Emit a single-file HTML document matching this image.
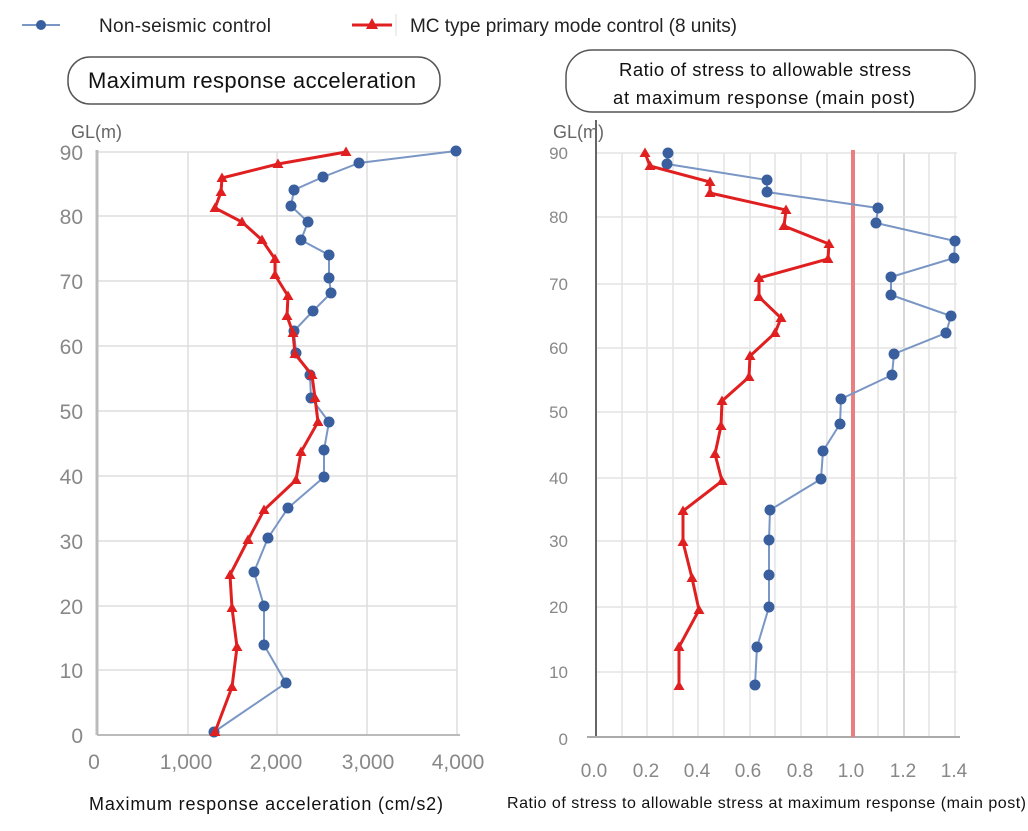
<!DOCTYPE html>
<html><head><meta charset="utf-8"><style>
body{margin:0;background:#fff;width:1028px;height:826px;overflow:hidden}
text{font-family:"Liberation Sans",sans-serif}
</style></head><body>
<svg width="1028" height="826" viewBox="0 0 1028 826" xmlns="http://www.w3.org/2000/svg">
<defs>
<marker id="c" markerUnits="userSpaceOnUse" markerWidth="14" markerHeight="14" refX="7" refY="7"><circle cx="7" cy="7" r="5.5" fill="#3a5f9e"/></marker>
<marker id="t" markerUnits="userSpaceOnUse" markerWidth="14" markerHeight="14" refX="7" refY="7"><polygon points="7,1.5 12.5,11 1.5,11" fill="#e02020"/></marker>
</defs>
<line x1="22" y1="25" x2="60" y2="25" stroke="#7a96c4" stroke-width="2"/><circle cx="41" cy="25" r="5" fill="#3a5f9e"/>
<text x="99" y="32" font-size="19" fill="#222" textLength="172">Non-seismic control</text>
<line x1="352" y1="25" x2="392" y2="25" stroke="#e02020" stroke-width="3"/><polygon points="372,18 378,29 366,29" fill="#e02020"/>
<line x1="396" y1="14" x2="396" y2="36" stroke="#ddd"/>
<text x="410" y="32" font-size="19" fill="#222" textLength="327">MC type primary mode control (8 units)</text>
<rect x="68" y="57" width="372" height="47" rx="22" fill="#fff" stroke="#555" stroke-width="1.5"/>
<text x="88" y="88" font-size="22" fill="#111" textLength="328">Maximum response acceleration</text>
<rect x="566" y="50" width="409" height="62" rx="26" fill="#fff" stroke="#555" stroke-width="1.5"/>
<text x="619" y="76" font-size="18.5" fill="#111" textLength="292">Ratio of stress to allowable stress</text>
<text x="613" y="104" font-size="18.5" fill="#111" textLength="302">at maximum response (main post)</text>

<g stroke="#ddd" stroke-width="1.5">
<line x1="188" y1="152" x2="188" y2="735"/><line x1="277" y1="152" x2="277" y2="735"/><line x1="367" y1="152" x2="367" y2="735"/><line x1="457" y1="152" x2="457" y2="735"/>
<line x1="97" y1="152" x2="457" y2="152"/><line x1="97" y1="216" x2="457" y2="216"/><line x1="97" y1="281" x2="457" y2="281"/><line x1="97" y1="346" x2="457" y2="346"/><line x1="97" y1="411" x2="457" y2="411"/><line x1="97" y1="476" x2="457" y2="476"/><line x1="97" y1="541" x2="457" y2="541"/><line x1="97" y1="606" x2="457" y2="606"/><line x1="97" y1="670" x2="457" y2="670"/>
</g>
<line x1="97" y1="150" x2="97" y2="735" stroke="#bbb" stroke-width="3"/>
<line x1="97" y1="735" x2="460" y2="735" stroke="#bbb" stroke-width="2"/>
<g font-size="21" fill="#888" text-anchor="end">
<text x="83" y="160">90</text><text x="83" y="224">80</text><text x="83" y="289">70</text><text x="83" y="354">60</text><text x="83" y="419">50</text><text x="83" y="484">40</text><text x="83" y="549">30</text><text x="83" y="614">20</text><text x="83" y="678">10</text><text x="83" y="743">0</text>
</g>
<text x="71" y="138" font-size="18" fill="#666">GL(m)</text>
<g font-size="21" fill="#888" text-anchor="middle">
<text x="94" y="769">0</text><text x="186" y="769">1,000</text><text x="276" y="769">2,000</text><text x="368" y="769">3,000</text><text x="458" y="769">4,000</text>
</g>
<text x="89" y="810" font-size="18" fill="#111" textLength="354">Maximum response acceleration (cm/s2)</text>
<polyline fill="none" stroke="#7a96c4" stroke-width="2" marker-start="url(#c)" marker-mid="url(#c)" marker-end="url(#c)"
points="456,151 359,163 323,177 294,190 291,206 308,222 301,240 329,255 329,278 331,293 313,311 294,331 296,353 310,375 311,398 329,422 324,450 324,477 288,508 268,538 254,572 264,606 264,645 286,683 214,732"/>
<polyline fill="none" stroke="#e02020" stroke-width="3" marker-start="url(#t)" marker-mid="url(#t)" marker-end="url(#t)"
points="346,152 278,164 222,178 221,192 215,208 242,222 262,240 275,259 275,275 288,296 287,316 293,333 295,354 312,375 315,398 318,422 301,452 296,480 264,510 248,540 230,575 232,608 237,647 232,687 215,732"/>

<g stroke="#e4e4e4" stroke-width="1.5">
<line x1="622" y1="153" x2="622" y2="737"/><line x1="647" y1="153" x2="647" y2="737"/><line x1="673" y1="153" x2="673" y2="737"/><line x1="698" y1="153" x2="698" y2="737"/><line x1="724" y1="153" x2="724" y2="737"/><line x1="750" y1="153" x2="750" y2="737"/><line x1="775" y1="153" x2="775" y2="737"/><line x1="801" y1="153" x2="801" y2="737"/><line x1="827" y1="153" x2="827" y2="737"/><line x1="878" y1="153" x2="878" y2="737"/><line x1="904" y1="153" x2="904" y2="737" stroke="#ccc"/><line x1="929" y1="153" x2="929" y2="737"/><line x1="955" y1="153" x2="955" y2="737"/>
<line x1="596" y1="153" x2="957" y2="153"/><line x1="596" y1="217" x2="957" y2="217"/><line x1="596" y1="284" x2="957" y2="284"/><line x1="596" y1="348" x2="957" y2="348"/><line x1="596" y1="412" x2="957" y2="412"/><line x1="596" y1="478" x2="957" y2="478"/><line x1="596" y1="541" x2="957" y2="541"/><line x1="596" y1="607" x2="957" y2="607"/><line x1="596" y1="672" x2="957" y2="672"/>
</g>
<line x1="596" y1="120" x2="596" y2="737" stroke="#666" stroke-width="2"/>
<line x1="587" y1="737" x2="960" y2="737" stroke="#aaa" stroke-width="2"/>
<line x1="853" y1="150" x2="853" y2="737" stroke="#e98080" stroke-width="4"/>
<g font-size="17" fill="#888" text-anchor="end">
<text x="568" y="159">90</text><text x="568" y="223">80</text><text x="568" y="290">70</text><text x="568" y="354">60</text><text x="568" y="418">50</text><text x="568" y="484">40</text><text x="568" y="547">30</text><text x="568" y="613">20</text><text x="568" y="678">10</text><text x="568" y="745">0</text>
</g>
<text x="553" y="138" font-size="18" fill="#666">GL(m)</text>
<g font-size="19" fill="#888" text-anchor="middle">
<text x="594" y="777">0.0</text><text x="646" y="777">0.2</text><text x="697" y="777">0.4</text><text x="748" y="777">0.6</text><text x="800" y="777">0.8</text><text x="851" y="777">1.0</text><text x="903" y="777">1.2</text><text x="954" y="777">1.4</text>
</g>
<text x="507" y="808" font-size="16" fill="#111" textLength="519">Ratio of stress to allowable stress at maximum response (main post)</text>
<polyline fill="none" stroke="#7a96c4" stroke-width="2" marker-start="url(#c)" marker-mid="url(#c)" marker-end="url(#c)"
points="668,153 667,164 767,180 767,192 878,208 876,223 955,241 954,258 891,277 891,295 951,316 946,333 894,354 892,375 841,399 840,424 823,451 821,479 770,510 769,540 769,575 769,607 757,647 755,685"/>
<polyline fill="none" stroke="#e02020" stroke-width="3" marker-start="url(#t)" marker-mid="url(#t)" marker-end="url(#t)"
points="645,153 650,166 710,182 710,193 786,210 784,226 829,244 828,259 759,278 759,297 781,318 775,333 750,356 749,377 722,401 721,426 715,454 722,481 683,511 683,542 692,578 699,610 679,647 679,686"/>
</svg>
</body></html>
